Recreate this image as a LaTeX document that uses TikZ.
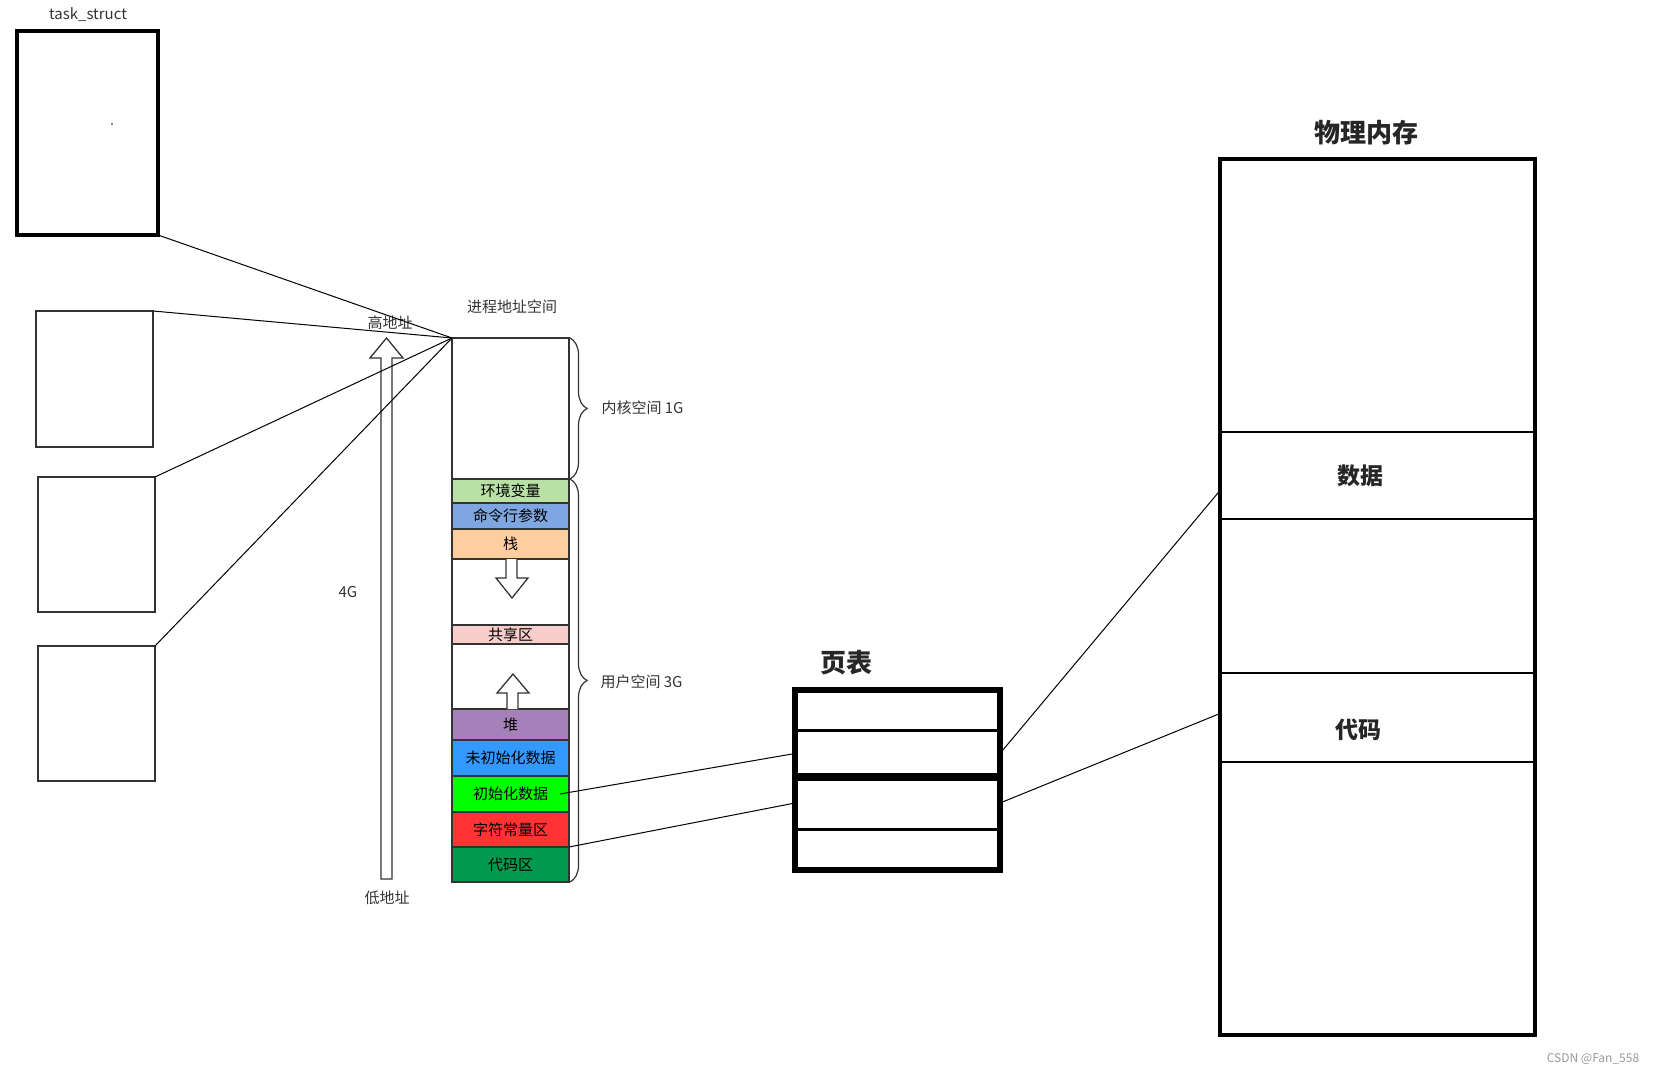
\documentclass[tikz,border=0pt]{standalone}
\usepackage{fontspec}
\setmainfont{Noto Sans CJK SC}
\usetikzlibrary{positioning,decorations.pathreplacing}

\definecolor{linegray}{HTML}{333333}
\definecolor{envgreen}{HTML}{B9E0A5}
\definecolor{argblue}{HTML}{7EA6E0}
\definecolor{stackorange}{HTML}{FFCE9F}
\definecolor{sharepink}{HTML}{F8CECC}
\definecolor{heappurple}{HTML}{A680B8}
\definecolor{bssblue}{HTML}{3399FF}
\definecolor{datagreen}{HTML}{00FF00}
\definecolor{rodatared}{HTML}{FF3333}
\definecolor{codegreen}{HTML}{00994D}

\begin{document}
\begin{tikzpicture}[x=1pt,y=-1pt,node distance=0pt,>=stealth]
	\tikzstyle{seg}=[rectangle, draw=linegray, line width=1.3pt, outer sep=0pt, inner sep=0pt, minimum width=117pt, text=black, font=\fontsize{15}{18}\selectfont]
	\tikzstyle{thin box}=[rectangle, draw=linegray, line width=1.3pt, outer sep=0pt, minimum width=117pt]
	\tikzstyle{page row}=[rectangle, draw=black, line width=3pt, outer sep=0pt, minimum width=205pt]
	\tikzstyle{mem row}=[rectangle, draw=black, line width=2.5pt, outer sep=0pt, minimum width=315pt, font=\fontsize{23}{26}\selectfont\bfseries, text=black!85]
	\tikzstyle{lbl}=[text=linegray, font=\fontsize{15}{18}\selectfont]
	\tikzstyle{title}=[text=black!85, font=\fontsize{26}{30}\selectfont\bfseries]
	\tikzstyle{conn}=[draw=black, line width=1pt]
	\tikzstyle{hollow}=[draw=linegray, fill=white, line width=1.3pt, line join=miter]
	\tikzstyle{cbrace}=[draw=linegray, line width=1.2pt, decorate, decoration={brace, amplitude=17pt}]

	\useasboundingbox (0,0) rectangle (1659,1075);

	% processes
	\node [rectangle, draw=black, line width=4.5pt, outer sep=0pt, minimum width=141pt, minimum height=204pt] (task) at (87.5,133) {};
	\node [lbl] (tasklbl) at (88,15) {task\_struct};
	\fill (112,124) circle (0.8);
	\node [thin box, minimum height=136pt] (proc1) at (94.5,379) {};
	\node [thin box, minimum height=135pt] (proc2) at (96.5,544.5) {};
	\node [thin box, minimum height=135pt] (proc3) at (96.5,713.5) {};

	% address space
	\node [lbl] (spacelbl) at (512,307) {进程地址空间};
	\node [seg, minimum height=141pt] (kern) at (510.5,408.5) {};
	\node [seg, fill=envgreen, minimum height=24pt, below=of kern] (env) {环境变量};
	\node [seg, fill=argblue, minimum height=26pt, below=of env] (args) {命令行参数};
	\node [seg, fill=stackorange, minimum height=30pt, below=of args] (stack) {栈};
	\node [seg, minimum height=66pt, below=of stack] (gap1) {};
	\node [seg, fill=sharepink, minimum height=19pt, below=of gap1] (share) {共享区};
	\node [seg, minimum height=65pt, below=of share] (gap2) {};
	\node [seg, fill=heappurple, minimum height=31pt, below=of gap2] (heap) {堆};
	\node [seg, fill=bssblue, minimum height=36pt, below=of heap] (bss) {未初始化数据};
	\node [seg, fill=datagreen, minimum height=36pt, below=of bss] (idata) {初始化数据};
	\node [seg, fill=rodatared, minimum height=35pt, below=of idata] (rodata) {字符常量区};
	\node [seg, fill=codegreen, minimum height=35pt, below=of rodata] (text) {代码区};

	\draw [hollow] (506,559) -- (506,578) -- (496,578) -- (512,598) -- (528,578) -- (517,578) -- (517,559);
	\draw [hollow] (507,709) -- (507,693) -- (497,693) -- (513,674) -- (529,693) -- (518,693) -- (518,709);

	\draw [cbrace] (570,338) -- (570,479);
	\draw [cbrace] (570,479) -- (570,882);
	\node [lbl, anchor=west] (kernlbl) at (598,408) {内核空间 1G};
	\node [lbl, anchor=west] (userlbl) at (597,682) {用户空间 3G};

	% 4G arrow
	\draw [hollow] (381,879) -- (381,358) -- (370,358) -- (386.5,338) -- (403,358) -- (392,358) -- (392,879) -- cycle;
	\node [lbl] (highlbl) at (390,323) {高地址};
	\node [lbl] (lowlbl) at (387,898) {低地址};
	\node [lbl] (sizelbl) at (348,592) {4G};

	% page table
	\node [title] (ptlbl) at (846,663) {页表};
	\node [page row, minimum height=40pt] (pt1) at (897.5,710) {};
	\node [page row, minimum height=47pt, below=of pt1] (pt2) {};
	\node [page row, minimum height=52pt, below=of pt2] (pt3) {};
	\node [page row, minimum height=41pt, below=of pt3] (pt4) {};
	\draw [line width=8pt] (pt3.north west) -- (pt3.north east);
	\draw [line width=6pt] (pt1.north west) rectangle (pt4.south east);

	% physical memory
	\node [title] (pmlbl) at (1366,133) {物理内存};
	\node [mem row, minimum height=273pt] (pm1) at (1377.5,295.5) {};
	\node [mem row, minimum height=87pt, below=of pm1, label={[mem row, draw=none, xshift=-17pt]center:数据}] (pmdata) {};
	\node [mem row, minimum height=154pt, below=of pmdata] (pm3) {};
	\node [mem row, minimum height=89pt, below=of pm3, label={[mem row, draw=none, xshift=-19pt, yshift=-12pt]center:代码}] (pmcode) {};
	\node [mem row, minimum height=273pt, below=of pmcode] (pm5) {};
	\draw [line width=4.5pt] (pm1.north west) rectangle (pm5.south east);

	% mappings
	\draw [conn] (task.south east) -- (kern.north west);
	\draw [conn] (proc1.north east) -- (kern.north west);
	\draw [conn] (proc2.north east) -- (kern.north west);
	\draw [conn] (proc3.north east) -- (kern.north west);
	\draw [conn] ([xshift=-9pt]idata.east) -- (pt2.west);
	\draw [conn] (rodata.south east) -- (pt3.west);
	\draw [conn] (pt2.east) -- ([yshift=-15pt]pmdata.west);
	\draw [conn] (pt3.east) -- ([yshift=4pt]pmcode.west);

	\node [text=black!40, font=\fontsize{12}{14}\selectfont] (mark) at (1593,1059) {CSDN @Fan\_558};
\end{tikzpicture}
\end{document}
